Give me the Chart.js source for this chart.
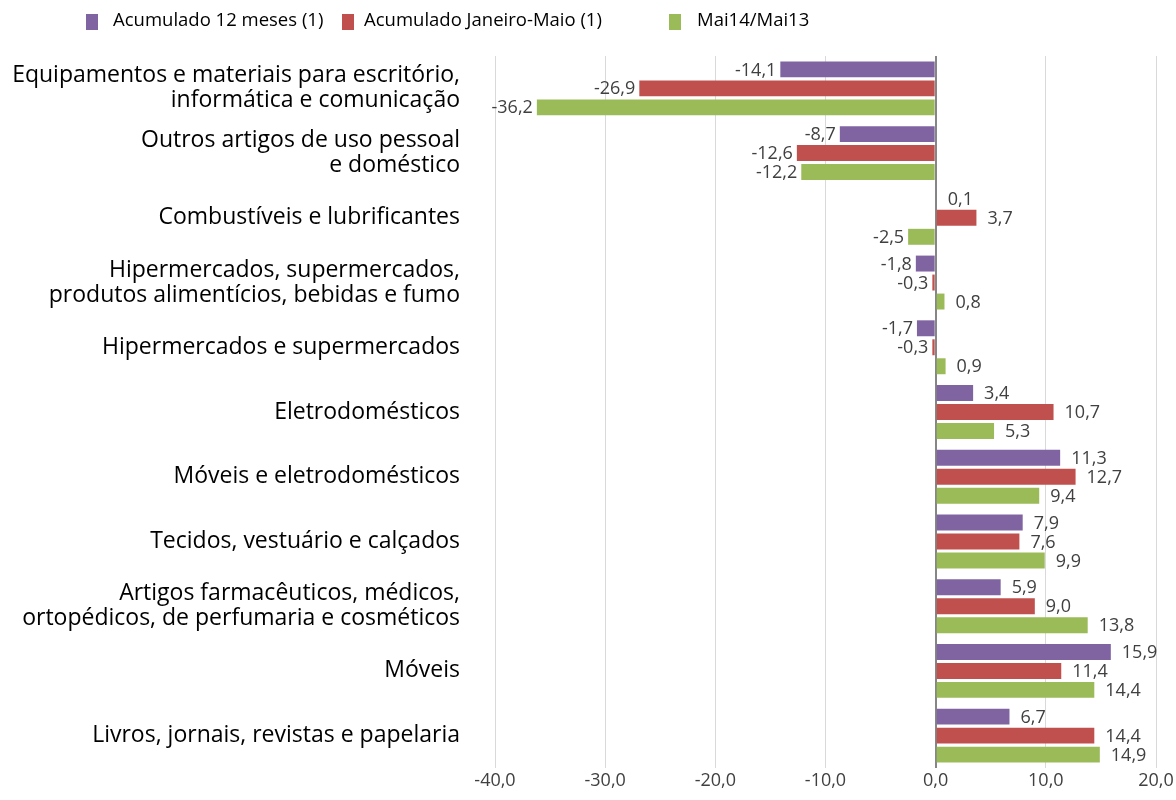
<!DOCTYPE html>
<html><head><meta charset="utf-8">
<script src="https://cdn.jsdelivr.net/npm/chart.js@4.4.1/dist/chart.umd.min.js"></script>
<style>html,body{margin:0;padding:0;background:#fff}#wrap{width:1176px;height:800px;position:relative}</style>
</head><body><div id="wrap"><canvas id="c" width="1176" height="800"></canvas></div>
<script>
const categories = [
  ["Equipamentos e materiais para escritório,", "informática e comunicação"],
  ["Outros artigos de uso pessoal", "e doméstico"],
  "Combustíveis e lubrificantes",
  ["Hipermercados, supermercados,", "produtos alimentícios, bebidas e fumo"],
  "Hipermercados e supermercados",
  "Eletrodomésticos",
  "Móveis e eletrodomésticos",
  "Tecidos, vestuário e calçados",
  ["Artigos farmacêuticos, médicos,", "ortopédicos, de perfumaria e cosméticos"],
  "Móveis",
  "Livros, jornais, revistas e papelaria"
];
const seriesNames = ["Acumulado 12 meses (1)", "Acumulado Janeiro-Maio (1)", "Mai14/Mai13"];
const acum12 = [-14.1, -8.7, 0.1, -1.8, -1.7, 3.4, 11.3, 7.9, 5.9, 15.9, 6.7];
const acumJanMai = [-26.9, -12.6, 3.7, -0.3, -0.3, 10.7, 12.7, 7.6, 9.0, 11.4, 14.4];
const mai14mai13 = [-36.2, -12.2, -2.5, 0.8, 0.9, 5.3, 9.4, 9.9, 13.8, 14.4, 14.9];
const xMin = -40, xMax = 20, xStep = 10;
const colors = ['#8064A2', '#C0504D', '#9BBB59'];

const FONT = "'Open Sans', sans-serif";
const fmt = v => v.toFixed(1).replace('.', ',');

const labelPlugin = {
  id: 'valLabels',
  afterDatasetsDraw(chart) {
    const ctx = chart.ctx;
    ctx.save();
    ctx.font = "18px " + FONT;
    ctx.fillStyle = '#404040';
    ctx.textBaseline = 'middle';
    chart.data.datasets.forEach((ds, di) => {
      const meta = chart.getDatasetMeta(di);
      meta.data.forEach((el, i) => {
        const v = ds.data[i];
        if (v >= 0) { ctx.textAlign = 'left'; ctx.fillText(fmt(v), el.x + 11, el.y + 1); }
        else { ctx.textAlign = 'right'; ctx.fillText(fmt(v), el.x - 4, el.y + 1); }
      });
    });
    ctx.restore();
  }
};

const legendPlugin = {
  id: 'customLegend',
  afterDraw(chart) {
    const ctx = chart.ctx;
    const boxX = [86, 342, 669];
    const textX = [113, 364, 697];
    ctx.save();
    ctx.font = "18.5px " + FONT;
    ctx.textBaseline = 'middle';
    ctx.textAlign = 'left';
    chart.data.datasets.forEach((ds, di) => {
      ctx.fillStyle = ds.backgroundColor;
      ctx.fillRect(boxX[di], 14, 12, 16);
      ctx.fillStyle = '#000';
      ctx.fillText(ds.label, textX[di], 21);
    });
    ctx.restore();
  }
};

new Chart(document.getElementById('c'), {
  type: 'bar',
  data: {
    labels: categories,
    datasets: [
      { label: seriesNames[0], data: acum12, backgroundColor: colors[0] },
      { label: seriesNames[1], data: acumJanMai, backgroundColor: colors[1] },
      { label: seriesNames[2], data: mai14mai13, backgroundColor: colors[2] }
    ]
  },
  options: {
    indexAxis: 'y',
    responsive: false,
    animation: false,
    categoryPercentage: 0.88,
    barPercentage: 0.84,
    layout: { padding: { top: 56, right: 20, left: 0, bottom: 0 } },
    plugins: { legend: { display: false }, tooltip: { enabled: false } },
    scales: {
      x: {
        min: xMin, max: xMax,
        afterFit: s => { s.height = 32; s.paddingLeft = 0; s.paddingRight = 0; },
        ticks: { stepSize: xStep, callback: v => fmt(v), color: '#404040', font: { size: 18, family: FONT }, padding: 2 },
        grid: {
          drawTicks: false,
          color: c => c.tick && c.tick.value === 0 ? '#868686' : '#D9D9D9',
          lineWidth: c => c.tick && c.tick.value === 0 ? 2 : 1
        },
        border: { display: false }
      },
      y: {
        afterFit: s => { s.width = 495; s.paddingTop = 0; s.paddingBottom = 0; },
        ticks: { color: '#000', font: { size: 23, family: FONT, lineHeight: 25/23 }, padding: 27 },
        grid: { display: false },
        border: { display: false }
      }
    }
  },
  plugins: [labelPlugin, legendPlugin]
});
</script></body></html>
